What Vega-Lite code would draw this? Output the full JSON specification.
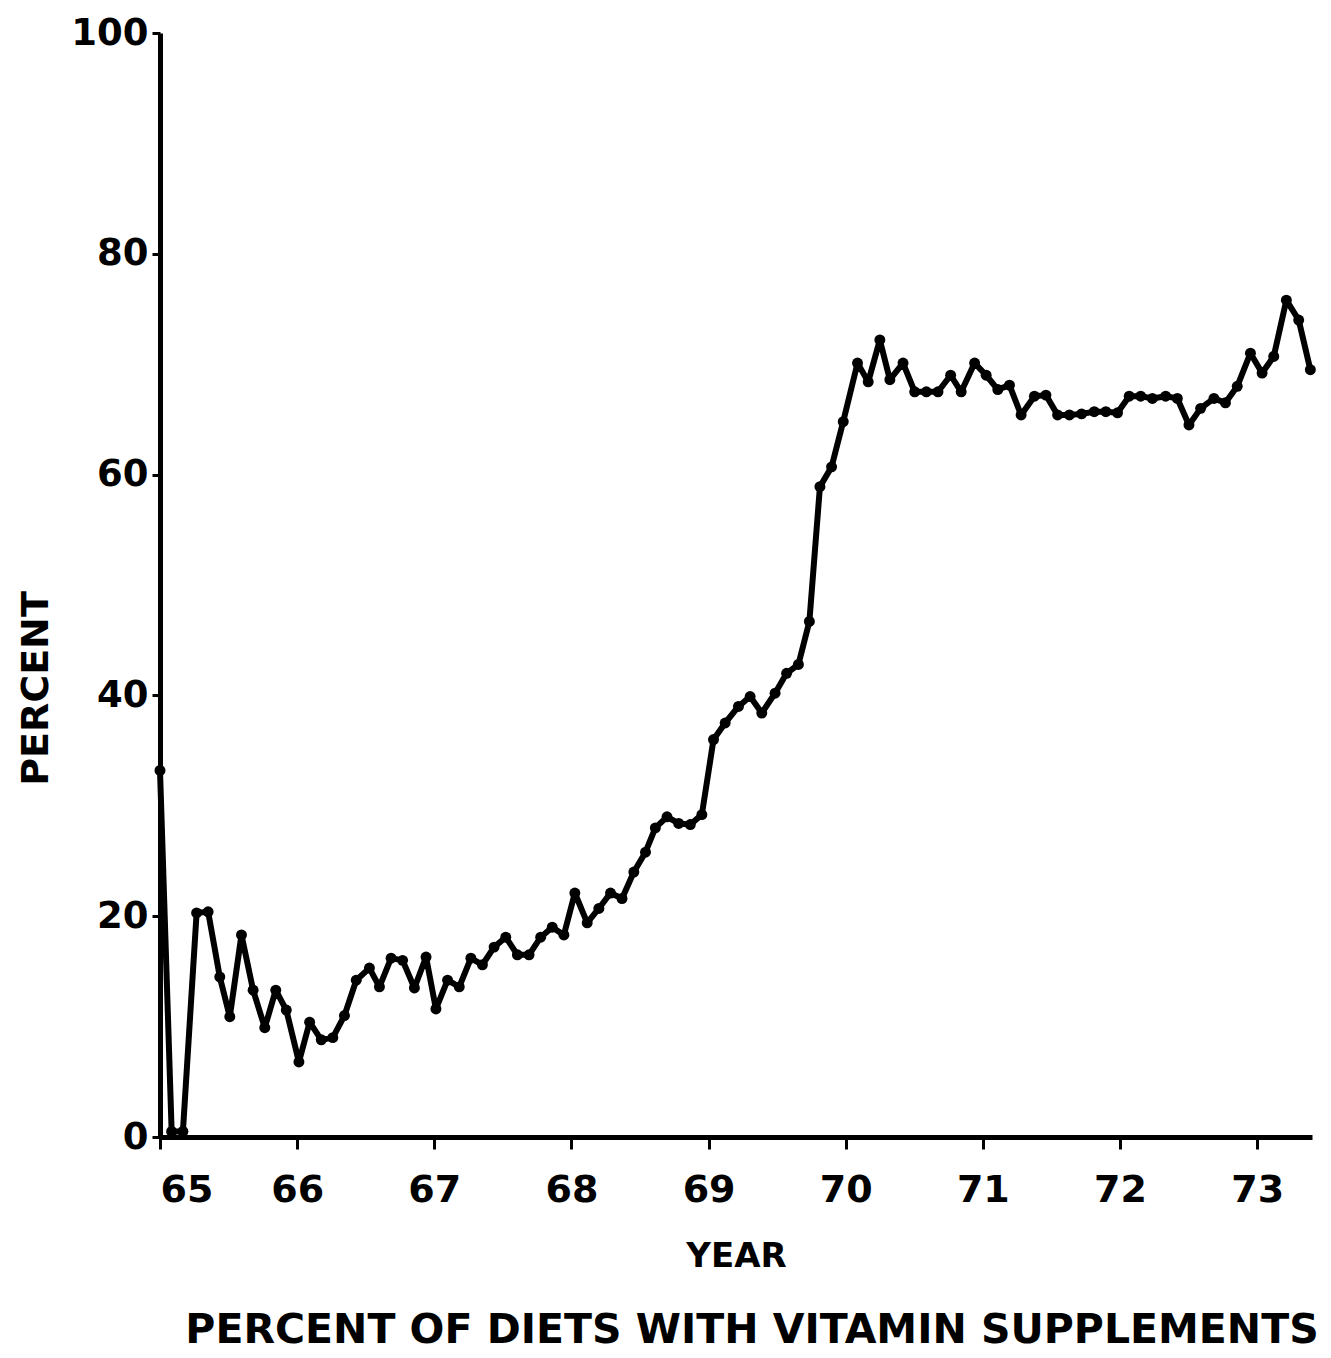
{
  "$schema": "https://vega.github.io/schema/vega-lite/v6.json",
  "autosize": "none",
  "width": 1152,
  "height": 1104,
  "padding": {"left": 160, "top": 33, "right": 19, "bottom": 221},
  "background": "white",
  "config": {
    "view": {"stroke": null},
    "font": "DejaVu Sans",
    "axis": {"grid": false, "domainColor": "black", "tickColor": "black", "labelColor": "black", "titleColor": "black", "labelFont": "DejaVu Sans", "titleFont": "DejaVu Sans", "labelFontWeight": "bold", "titleFontWeight": "bold"}
  },
  "title": {
    "text": "PERCENT OF DIETS WITH VITAMIN SUPPLEMENTS",
    "orient": "bottom",
    "anchor": "middle",
    "dx": 16,
    "fontSize": 41,
    "fontWeight": "bold",
    "font": "DejaVu Sans",
    "color": "black",
    "offset": 38
  },
  "data": {
    "values": [
      {"year": 65.000, "pct": 33.2},
      {"year": 65.085, "pct": 0.5},
      {"year": 65.167, "pct": 0.5},
      {"year": 65.267, "pct": 20.3},
      {"year": 65.351, "pct": 20.4},
      {"year": 65.436, "pct": 14.5},
      {"year": 65.509, "pct": 10.9},
      {"year": 65.594, "pct": 18.3},
      {"year": 65.679, "pct": 13.3},
      {"year": 65.764, "pct": 9.9},
      {"year": 65.844, "pct": 13.3},
      {"year": 65.921, "pct": 11.5},
      {"year": 66.013, "pct": 6.8},
      {"year": 66.091, "pct": 10.4},
      {"year": 66.176, "pct": 8.8},
      {"year": 66.260, "pct": 9.0},
      {"year": 66.345, "pct": 11.0},
      {"year": 66.431, "pct": 14.2},
      {"year": 66.527, "pct": 15.3},
      {"year": 66.600, "pct": 13.6},
      {"year": 66.685, "pct": 16.2},
      {"year": 66.769, "pct": 16.0},
      {"year": 66.855, "pct": 13.5},
      {"year": 66.940, "pct": 16.3},
      {"year": 67.012, "pct": 11.6},
      {"year": 67.097, "pct": 14.2},
      {"year": 67.182, "pct": 13.6},
      {"year": 67.267, "pct": 16.2},
      {"year": 67.351, "pct": 15.6},
      {"year": 67.436, "pct": 17.2},
      {"year": 67.521, "pct": 18.1},
      {"year": 67.606, "pct": 16.5},
      {"year": 67.691, "pct": 16.5},
      {"year": 67.776, "pct": 18.1},
      {"year": 67.860, "pct": 19.0},
      {"year": 67.945, "pct": 18.3},
      {"year": 68.025, "pct": 22.1},
      {"year": 68.115, "pct": 19.4},
      {"year": 68.200, "pct": 20.7},
      {"year": 68.285, "pct": 22.1},
      {"year": 68.369, "pct": 21.6},
      {"year": 68.455, "pct": 24.0},
      {"year": 68.540, "pct": 25.8},
      {"year": 68.612, "pct": 28.0},
      {"year": 68.697, "pct": 29.0},
      {"year": 68.782, "pct": 28.4},
      {"year": 68.867, "pct": 28.3},
      {"year": 68.951, "pct": 29.2},
      {"year": 69.036, "pct": 36.0},
      {"year": 69.121, "pct": 37.5},
      {"year": 69.218, "pct": 39.0},
      {"year": 69.303, "pct": 39.9},
      {"year": 69.388, "pct": 38.4},
      {"year": 69.485, "pct": 40.2},
      {"year": 69.569, "pct": 42.0},
      {"year": 69.655, "pct": 42.8},
      {"year": 69.735, "pct": 46.7},
      {"year": 69.812, "pct": 58.9},
      {"year": 69.897, "pct": 60.7},
      {"year": 69.982, "pct": 64.8},
      {"year": 70.086, "pct": 70.1},
      {"year": 70.164, "pct": 68.4},
      {"year": 70.249, "pct": 72.2},
      {"year": 70.322, "pct": 68.6},
      {"year": 70.418, "pct": 70.1},
      {"year": 70.503, "pct": 67.5},
      {"year": 70.588, "pct": 67.5},
      {"year": 70.673, "pct": 67.5},
      {"year": 70.765, "pct": 69.0},
      {"year": 70.842, "pct": 67.5},
      {"year": 70.940, "pct": 70.1},
      {"year": 71.024, "pct": 69.0},
      {"year": 71.109, "pct": 67.7},
      {"year": 71.194, "pct": 68.1},
      {"year": 71.279, "pct": 65.4},
      {"year": 71.376, "pct": 67.1},
      {"year": 71.460, "pct": 67.2},
      {"year": 71.545, "pct": 65.4},
      {"year": 71.631, "pct": 65.4},
      {"year": 71.720, "pct": 65.5},
      {"year": 71.812, "pct": 65.7},
      {"year": 71.897, "pct": 65.7},
      {"year": 71.982, "pct": 65.6},
      {"year": 72.067, "pct": 67.1},
      {"year": 72.151, "pct": 67.1},
      {"year": 72.236, "pct": 66.9},
      {"year": 72.333, "pct": 67.1},
      {"year": 72.418, "pct": 66.9},
      {"year": 72.503, "pct": 64.5},
      {"year": 72.588, "pct": 66.0},
      {"year": 72.685, "pct": 66.9},
      {"year": 72.769, "pct": 66.5},
      {"year": 72.855, "pct": 68.0},
      {"year": 72.951, "pct": 71.0},
      {"year": 73.036, "pct": 69.2},
      {"year": 73.121, "pct": 70.7},
      {"year": 73.213, "pct": 75.8},
      {"year": 73.303, "pct": 74.0},
      {"year": 73.388, "pct": 69.5}
    ]
  },
  "encoding": {
    "x": {
      "field": "year",
      "type": "quantitative",
      "scale": {"domain": [65, 73.4], "nice": false, "zero": false},
      "axis": {
        "title": "YEAR",
        "values": [65, 66, 67, 68, 69, 70, 71, 72, 73],
        "format": "d",
        "domainWidth": 5,
        "tickWidth": 3,
        "tickSize": 12,
        "labelFontSize": 38,
        "labelPadding": 22,
        "titleFontSize": 34,
        "titlePadding": 30
      }
    },
    "y": {
      "field": "pct",
      "type": "quantitative",
      "scale": {"domain": [0, 100], "nice": false},
      "axis": {
        "title": "PERCENT",
        "values": [0, 20, 40, 60, 80, 100],
        "domainWidth": 5,
        "tickWidth": 3,
        "tickSize": 8,
        "labelFontSize": 37,
        "labelPadding": 4,
        "titleFontSize": 38,
        "titleX": -124,
        "titleY": 655,
        "titleAngle": -90,
        "titleBaseline": "middle",
        "titleAlign": "center"
      }
    }
  },
  "layer": [
    {"mark": {"type": "line", "color": "black", "strokeWidth": 6, "strokeJoin": "round"}},
    {"mark": {"type": "point", "filled": true, "color": "black", "size": 120, "opacity": 1}}
  ]
}
